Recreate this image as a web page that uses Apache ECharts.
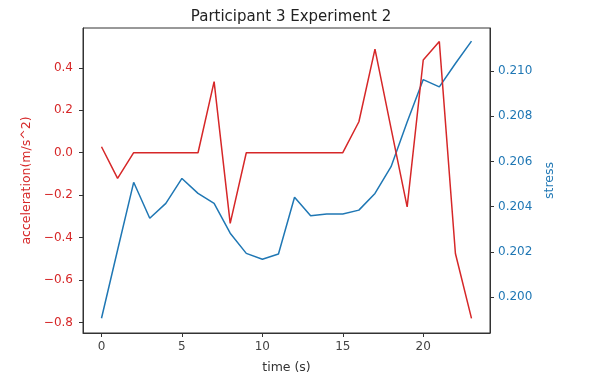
<!DOCTYPE html>
<html>
	<head>
		<meta charset="UTF-8">
		<title>Participant 3 Experiment 2</title>
		<script src="https://cdn.jsdelivr.net/npm/echarts@6/dist/echarts.min.js"></script>
		<style>
			body { margin: 0; background: #fff; }
		</style>
	</head>
	<body>
		<div id="chart" style="width: 592px;height: 388px;"></div>
		<script type="text/javascript">
			var time = [0,1,2,3,4,5,6,7,8,9,10,11,12,13,14,15,16,17,18,19,20,21,22,23];
			var acceleration = [0.028,-0.121,0,0,0,0,0,0.335,-0.333,0,0,0,0,0,0,0,0.146,0.488,0.115,-0.255,0.437,0.524,-0.475,-0.781];
			var stress = [0.19907,0.20209,0.20508,0.20349,0.20415,0.20525,0.20459,0.20415,0.20283,0.20194,0.20168,0.20191,0.20442,0.20360,0.20368,0.20368,0.20385,0.20459,0.20577,0.20775,0.20962,0.20930,0.21033,0.21132];
			var xTicks = [0,5,10,15,20];
			var accTicks = [-0.8,-0.6,-0.4,-0.2,0,0.2,0.4];
			var stressTicks = [0.200,0.202,0.204,0.206,0.208,0.210];

			var red = '#d62728';
			var blue = '#1f77b4';
			var font = 'DejaVu Sans';

			function pairs(xs, ys) {
				var out = [];
				for (var i = 0; i < xs.length; i++) {
					out.push([xs[i], ys[i]]);
				}
				return out;
			}

			var myChart = echarts.init(document.getElementById('chart'));
			var option = {
				animation: false,
				textStyle: { fontFamily: font },
				title: {
					text: 'Participant 3 Experiment 2',
					left: 286,
					textAlign: 'center',
					top: 5,
					textStyle: { fontSize: 15, fontWeight: 'normal', color: '#222', fontFamily: font }
				},
				grid: {
					left: 83, right: 102, top: 28, bottom: 55,
					show: true, borderColor: '#333', borderWidth: 1, backgroundColor: 'transparent'
				},
				xAxis: {
					type: 'value',
					min: -1.15,
					max: 24.15,
					splitLine: { show: false },
					axisLine: { onZero: false, lineStyle: { color: '#333' } },
					axisTick: { inside: false, length: 4, customValues: xTicks, lineStyle: { color: '#333' } },
					axisLabel: { customValues: xTicks, color: '#444', fontSize: 12, margin: 8 },
					name: 'time (s)',
					nameLocation: 'middle',
					nameGap: 28,
					nameTextStyle: { color: '#333', fontSize: 12.5 }
				},
				yAxis: [
					{
						type: 'value',
						position: 'left',
						min: -0.85,
						max: 0.588,
						splitLine: { show: false },
						axisLine: { show: true, onZero: false, lineStyle: { color: '#333' } },
						axisTick: { show: true, inside: false, length: 4, customValues: accTicks, lineStyle: { color: '#333' } },
						axisLabel: {
							customValues: accTicks, color: red, fontSize: 12, margin: 10,
							formatter: function (v) { return v.toFixed(1).replace('-', '\u2212'); }
						},
						name: 'acceleration(m/s^2)',
						nameLocation: 'middle',
						nameRotate: 90,
						nameGap: 50,
						nameTextStyle: { color: red, fontSize: 12.5 }
					},
					{
						type: 'value',
						position: 'right',
						min: 0.19842,
						max: 0.2119,
						splitLine: { show: false },
						axisLine: { show: true, onZero: false, lineStyle: { color: '#333' } },
						axisTick: { show: true, inside: false, length: 4, customValues: stressTicks, lineStyle: { color: '#333' } },
						axisLabel: {
							customValues: stressTicks, color: blue, fontSize: 12, margin: 8,
							formatter: function (v) { return v.toFixed(3); }
						},
						name: 'stress',
						nameLocation: 'middle',
						nameRotate: 90,
						nameGap: 53,
						nameTextStyle: { color: blue, fontSize: 12.5 }
					}
				],
				series: [
					{
						type: 'line',
						yAxisIndex: 0,
						data: pairs(time, acceleration),
						showSymbol: false,
						lineStyle: { color: red, width: 1.5 },
						itemStyle: { color: red },
						z: 3
					},
					{
						type: 'line',
						yAxisIndex: 1,
						data: pairs(time, stress),
						showSymbol: false,
						lineStyle: { color: blue, width: 1.5 },
						itemStyle: { color: blue },
						z: 2
					}
				]
			};
			myChart.setOption(option);
		</script>
	</body>
</html>
